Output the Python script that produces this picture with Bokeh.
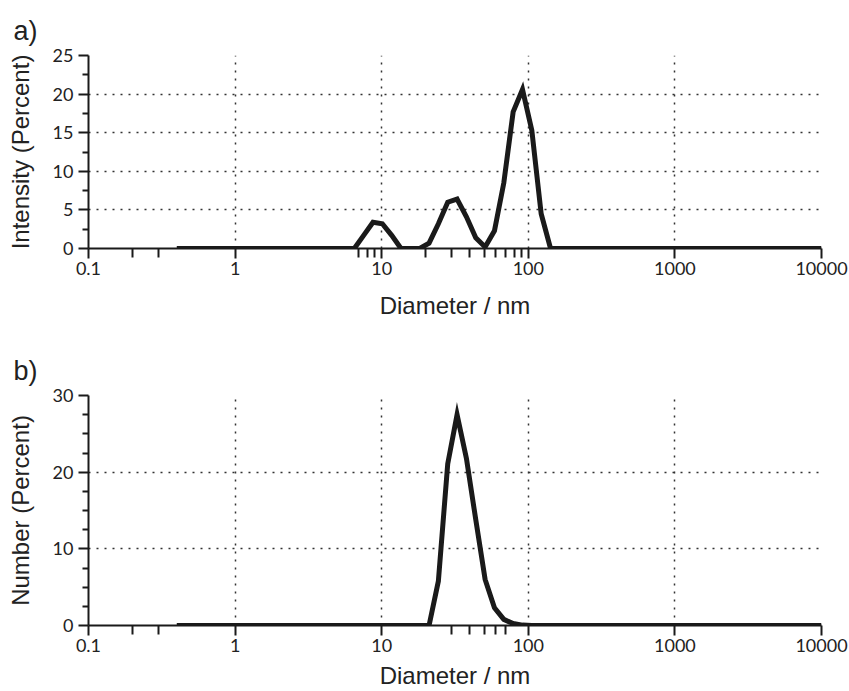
from bokeh.plotting import figure
from bokeh.models import FixedTicker, Range1d
from bokeh.layouts import column
from bokeh.embed import file_html
from bokeh.resources import INLINE

# Size bins (nm) of the size distribution
diameter_nm = [
    0.4, 0.4632, 0.5365, 0.6213, 0.7195, 0.8332, 0.9649, 1.117, 1.294, 1.499,
    1.736, 2.01, 2.328, 2.696, 3.122, 3.615, 4.187, 4.849, 5.615, 6.503,
    7.531, 8.721, 10.1, 11.7, 13.54, 15.69, 18.17, 21.04, 24.36, 28.21,
    32.67, 37.84, 43.82, 50.75, 58.77, 68.06, 78.82, 91.28, 105.7, 122.4,
    141.8, 164.2, 190.1, 220.2, 255.0, 295.3, 342.0, 396.1, 458.7, 531.2,
    615.1, 712.4, 825.0, 955.4, 1106, 1281, 1484, 1718, 1990, 2305,
    2669, 3091, 3580, 4145, 4801, 5560, 6439, 7456, 8635, 10000,
]

# a) Intensity distribution (%)
intensity_pct = [
    0, 0, 0, 0, 0, 0, 0, 0, 0, 0,
    0, 0, 0, 0, 0, 0, 0, 0, 0, 0,
    1.7, 3.4, 3.2, 1.7, 0, 0, 0, 0.7, 3.2, 6.0,
    6.4, 4.1, 1.4, 0.2, 2.3, 8.5, 17.7, 20.6, 15.3, 4.5,
    0, 0, 0, 0, 0, 0, 0, 0, 0, 0,
    0, 0, 0, 0, 0, 0, 0, 0, 0, 0,
    0, 0, 0, 0, 0, 0, 0, 0, 0, 0,
]

# b) Number distribution (%)
number_pct = [
    0, 0, 0, 0, 0, 0, 0, 0, 0, 0,
    0, 0, 0, 0, 0, 0, 0, 0, 0, 0,
    0, 0, 0, 0, 0, 0, 0, 0, 5.8, 21.1,
    27.5, 21.8, 13.8, 6.0, 2.3, 0.8, 0.25, 0.05, 0, 0,
    0, 0, 0, 0, 0, 0, 0, 0, 0, 0,
    0, 0, 0, 0, 0, 0, 0, 0, 0, 0,
    0, 0, 0, 0, 0, 0, 0, 0, 0, 0,
]

x_major_ticks = [0.1, 1, 10, 100, 1000, 10000]
x_tick_labels = ["0.1", "1", "10", "100", "1000", "10000"]
x_minor_ticks_a = [0.2, 0.3, 7, 8, 9, 20, 30, 40, 50, 60, 70, 80, 90]
x_minor_ticks_b = [0.2, 0.3, 30, 40, 50, 60, 70]

y_major_ticks_a = [0, 5, 10, 15, 20, 25]
y_minor_ticks_a = [2.5, 7.5, 12.5, 17.5, 22.5]
y_major_ticks_b = [0, 10, 20, 30]
y_minor_ticks_b = [2.5, 5, 7.5, 12.5, 15, 17.5, 22.5, 25, 27.5]

x_label = "Diameter / nm"
y_label_a = "Intensity (Percent)"
y_label_b = "Number (Percent)"

TICK_FONT = "Lato"
LABEL_FONT = "Liberation Sans"
INK = "#1a1a1a"


def make_panel(height, ymax, y_major, y_minor, x_minor, y_values, ylabel, tag,
               bottom_border, xlabel_standoff, xlabel_line_height):
    p = figure(
        width=849, height=height,
        x_axis_type="log",
        x_range=Range1d(0.1, 10000), y_range=Range1d(0, ymax),
        output_backend="svg", toolbar_location=None,
        min_border_left=88, min_border_right=28,
        min_border_top=55, min_border_bottom=bottom_border,
        title=tag,
    )
    p.outline_line_color = None
    p.background_fill_color = "white"
    p.border_fill_color = "white"

    p.title.align = "left"
    p.title.offset = -75
    p.title.standoff = 19
    p.title.text_font = LABEL_FONT
    p.title.text_font_style = "normal"
    p.title.text_font_size = "27px"
    p.title.text_color = "#222222"

    p.xaxis.ticker = FixedTicker(ticks=x_major_ticks, minor_ticks=x_minor)
    p.xaxis.major_label_overrides = {t: s for t, s in zip(x_major_ticks, x_tick_labels)}
    p.yaxis.ticker = FixedTicker(ticks=y_major, minor_ticks=y_minor)

    for ax in (p.xaxis[0], p.yaxis[0]):
        ax.axis_line_width = 2
        ax.axis_line_color = INK
        ax.major_tick_line_width = 2
        ax.minor_tick_line_width = 2
        ax.major_tick_line_color = INK
        ax.minor_tick_line_color = INK
        ax.major_tick_in = 0
        ax.minor_tick_in = 0
        ax.major_tick_out = 10
        ax.major_label_text_font = TICK_FONT
        ax.major_label_text_font_size = "18px"
        ax.major_label_text_color = "#222222"
        ax.axis_label_text_font = LABEL_FONT
        ax.axis_label_text_font_style = "normal"
        ax.axis_label_text_font_size = "24px"
        ax.axis_label_text_color = "#222222"
    p.xaxis.minor_tick_out = 9
    p.yaxis.minor_tick_out = 6
    p.xaxis.major_label_standoff = 3
    p.yaxis.major_label_standoff = 5
    p.xaxis.axis_label = x_label
    p.yaxis.axis_label = ylabel
    p.xaxis.axis_label_standoff = xlabel_standoff
    p.xaxis.axis_label_text_line_height = xlabel_line_height
    p.yaxis.axis_label_standoff = 16

    for g in (p.xgrid[0], p.ygrid[0]):
        g.grid_line_color = "#333333"
        g.grid_line_width = 1.5
        g.grid_line_dash = "2 6"

    p.line(diameter_nm, y_values, line_color=INK, line_width=5, line_join="miter")
    return p


p_a = make_panel(340, 25, y_major_ticks_a, y_minor_ticks_a, x_minor_ticks_a,
                 intensity_pct, y_label_a, "a)", 92, 14, 1.2)
p_b = make_panel(351, 30, y_major_ticks_b, y_minor_ticks_b, x_minor_ticks_b,
                 number_pct, y_label_b, "b)", 64, 7, 0.8)

layout = column(p_a, p_b, spacing=0)

with open("out.html", "w") as f:
    f.write(file_html(layout, INLINE))
